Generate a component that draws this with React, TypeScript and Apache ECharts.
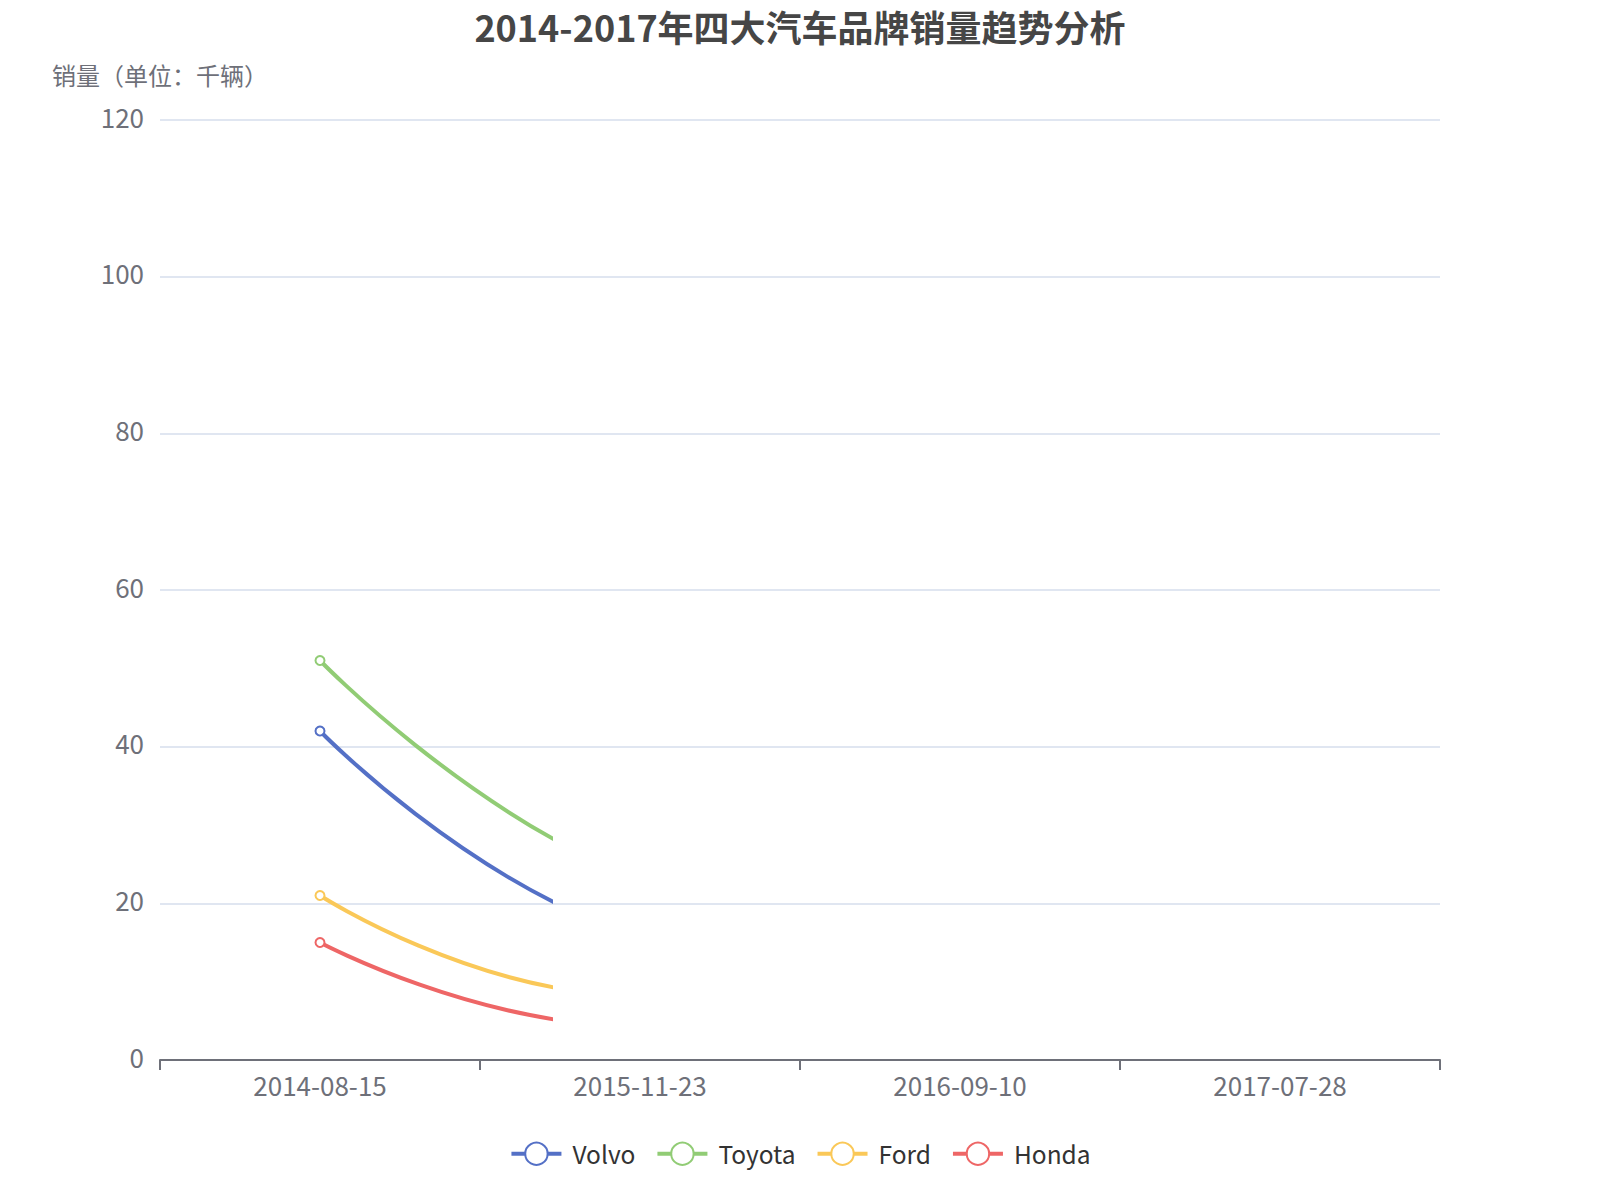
import React, { useEffect, useRef } from 'react';
import * as echarts from 'echarts';

const categories = ['2014-08-15', '2015-11-23', '2016-09-10', '2017-07-28'];
const brands = ['Volvo', 'Toyota', 'Ford', 'Honda'];
// 销量（千辆）; only the start of each line is visible in the picture
const volvo  = [42, 15.6, 9.6];
const toyota = [51, 22.9, 15.5];
const ford   = [21, 8.2, 9];
const honda  = [15, 4.3, 5];
const colors = ['#5470c6', '#91cc75', '#fac858', '#ee6666'];

const W = 1600;
const H = 1200;
const GRID = { left: 160, right: 160, top: 120, bottom: 140 };
// how far (in category bands) the lines are drawn before they stop
const REVEAL = 1.22;
const FONT = "'Noto Sans CJK SC', 'Noto Sans', sans-serif";

function buildOption() {
  const band = (W - GRID.left - GRID.right) / categories.length;
  const values = [volvo, toyota, ford, honda];

  return {
    animation: false,
    color: colors,
    textStyle: { fontFamily: FONT },
    title: {
      text: '2014-2017年四大汽车品牌销量趋势分析',
      left: 'center',
      top: 8,
      padding: 0,
      textStyle: { fontSize: 36, fontWeight: 'bold', color: '#464646', fontFamily: FONT },
    },
    legend: {
      data: brands,
      bottom: 29,
      itemWidth: 50,
      itemHeight: 28,
      itemGap: 20,
      lineStyle: { width: 4 },
      itemStyle: { borderWidth: 4 },
      textStyle: { fontSize: 24.5, color: '#333', fontFamily: FONT, padding: [0, 0, 0, 6] },
    },
    grid: [
      { ...GRID },
      { left: GRID.left, top: GRID.top, bottom: GRID.bottom, width: band * REVEAL },
    ],
    xAxis: [
      {
        type: 'category',
        data: categories,
        axisLine: { lineStyle: { color: '#6E7079', width: 2 } },
        axisTick: { show: true, length: 10, lineStyle: { color: '#6E7079', width: 2 } },
        axisLabel: { fontSize: 26, margin: 11, color: '#6E7079', fontFamily: FONT },
      },
      { type: 'value', gridIndex: 1, min: 0, max: REVEAL, show: false },
    ],
    yAxis: [
      {
        type: 'value',
        min: 0,
        max: 120,
        interval: 20,
        name: '销量（单位：千辆）',
        nameGap: 34,
        nameTextStyle: { fontSize: 24, color: '#6E7079', fontFamily: FONT },
        axisLabel: {
          fontSize: 26, margin: 16, color: '#6E7079', fontFamily: FONT,
          verticalAlign: 'bottom', lineHeight: 8,
        },
        splitLine: { lineStyle: { color: '#E0E6F1', width: 2 } },
      },
      { type: 'value', gridIndex: 1, min: 0, max: 120, show: false },
    ],
    series: brands.map((name, k) => ({
      name,
      type: 'line',
      xAxisIndex: 1,
      yAxisIndex: 1,
      smooth: true,
      clip: true,
      symbol: 'emptyCircle',
      symbolSize: 9,
      lineStyle: { width: 4 },
      itemStyle: { borderWidth: 4 },
      // category i sits at the centre of its band on the hidden value axis
      data: values[k].map((v, i) => [i + 0.5, v]),
    })),
  };
}

export default function App() {
  const ref = useRef<HTMLDivElement>(null);

  useEffect(() => {
    if (!ref.current) return;
    const chart = echarts.init(ref.current, null, { renderer: 'svg' });
    chart.setOption(buildOption() as any);
    return () => chart.dispose();
  }, []);

  return (
    <div
      ref={ref}
      style={{ position: 'absolute', left: 0, top: 0, width: W, height: H, background: '#fff' }}
    />
  );
}
